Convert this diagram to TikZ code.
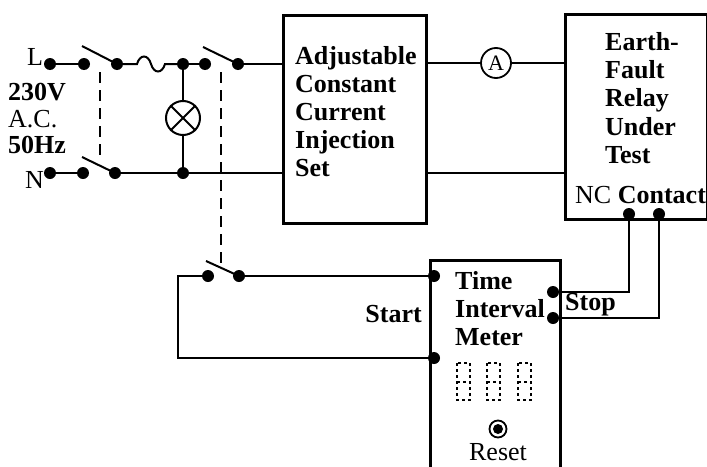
\documentclass[tikz,border=0pt]{standalone}
\usepackage{fontspec}
\setmainfont{Liberation Serif}
\begin{document}
\begin{tikzpicture}[x=1pt,y=-1pt,
  wire/.style={line width=2pt},
  boxed/.style={draw, line width=2.5pt, inner sep=0pt, anchor=north west},
  dot/.style={circle, fill=black, inner sep=0pt, minimum size=12pt},
  blade/.style={line width=2pt},
  link/.style={line width=2.2pt, dash pattern=on 11pt off 7pt},
  lbl/.style={font=\bfseries\fontsize{26}{28}\selectfont, inner sep=0pt, anchor=base west},
  lblr/.style={font=\fontsize{26}{28}\selectfont, inner sep=0pt, anchor=base west},
  seg/.style={line width=1.6pt, dash pattern=on 3pt off 3pt}]
\useasboundingbox (0,0) rectangle (707,466);
\fill[white] (0,0) rectangle (707,466);

% boxes
\node[boxed, minimum width=143pt, minimum height=208pt] (inj) at (282,14) {};
\node[boxed, minimum width=142pt, minimum height=205pt] (relay) at (564,13) {};
\node[boxed, minimum width=130pt, minimum height=240pt] (tim) at (429,259) {};

% dots
\node[dot] (Ld) at (50,64) {};
\node[dot] (s1a) at (84,64) {};
\node[dot] (s1b) at (117,64) {};
\node[dot] (j1) at (183,64) {};
\node[dot] (s2a) at (205,64) {};
\node[dot] (s2b) at (238,64) {};
\node[dot] (Nd) at (50,173) {};
\node[dot] (s3a) at (83,173) {};
\node[dot] (s3b) at (115,173) {};
\node[dot] (j2) at (183,173) {};
\node[dot] (s4a) at (208,276) {};
\node[dot] (s4b) at (239,276) {};
\node[dot] (t1) at (434,276) {};
\node[dot] (t2) at (434,358) {};
\node[dot] (t3) at (553,292) {};
\node[dot] (t4) at (553,318) {};
\node[dot] (c1) at (629,214) {};
\node[dot] (c2) at (659,214) {};

% lamp and ammeter
\node[circle, draw, line width=2pt, minimum size=34pt, inner sep=0pt] (lamp) at (183,118) {};
\draw[wire] (lamp.45) -- (lamp.225) (lamp.135) -- (lamp.315);
\node[circle, draw, line width=1.8pt, minimum size=30pt, inner sep=0pt,
      font=\fontsize{22}{22}\selectfont] (amm) at (496,63) {A};

% blade tips and dashed links
\coordinate (b1) at (82,46);
\coordinate (b2) at (203,47);
\coordinate (b3) at (82,157);
\coordinate (b4) at (206,261);
\draw[blade] (s1b.center) -- (b1);
\draw[blade] (s2b.center) -- (b2);
\draw[blade] (s3b.center) -- (b3);
\draw[blade] (s4b.center) -- (b4);
\coordinate (k1a) at (100,72);
\coordinate (k1b) at (100,158);
\coordinate (k2a) at (221,72);
\coordinate (k2b) at (221,266);
\draw[link] (k1a) -- (k1b);
\draw[link] (k2a) -- (k2b);

% fuse
\coordinate (fa) at (137,64);
\coordinate (fm) at (151,64);
\coordinate (fb) at (165,64);
\draw[wire] (s1b) -- (fa) .. controls (140,54) and (148,54) .. (fm)
  .. controls (154,74) and (162,74) .. (fb) -- (j1);

% wires
\draw[wire] (Ld) -- (s1a);
\draw[wire] (j1) -- (s2a);
\draw[wire] (s2b) -- (s2b -| inj.west);
\draw[wire] (Nd) -- (s3a);
\draw[wire] (s3b) -- (j2);
\draw[wire] (j2) -- (j2 -| inj.west);
\draw[wire] (j1) -- (lamp) -- (j2);
\draw[wire] (amm.west -| inj.east) -- (amm) -- (amm -| relay.west);
\draw[wire] (inj.east |- j2) -- (relay.west |- j2);
\draw[wire] (c1) -- (c1 |- t3) -- (t3);
\draw[wire] (c2) -- (c2 |- t4) -- (t4);
\draw[wire] (s4b) -- (t1);
\coordinate (lc) at (178,358);
\draw[wire] (s4a) -| (lc) -- (t2);

% left labels
\node[lblr] (tL) at (27,65) {L};
\node[lbl] (tV) at (8,100) {230V};
\node[lblr] (tAC) at (8,127) {A.C.};
\node[lbl] (tHz) at (8,153) {50Hz};
\node[lblr] (tN) at (25,188) {N};

% injection set text
\node[lbl] (i0) at (295,64) {Adjustable};
\node[lbl] (i1) at (295,92) {Constant};
\node[lbl] (i2) at (295,120) {Current};
\node[lbl] (i3) at (295,148) {Injection};
\node[lbl] (i4) at (295,176) {Set};

% relay text
\node[lbl] (r0) at (605,50) {Earth-};
\node[lbl] (r1) at (605,78) {Fault};
\node[lbl] (r2) at (605,106) {Relay};
\node[lbl] (r3) at (605,135) {Under};
\node[lbl] (r4) at (605,163) {Test};
\node[lbl] (r5) at (575,203) {{\mdseries NC} Contact};

% timer text
\node[lbl] (m0) at (455,289) {Time};
\node[lbl] (m1) at (455,317) {Interval};
\node[lbl] (m2) at (455,345) {Meter};
\node[lbl, anchor=base east] (st) at (422,322) {Start};
\node[lbl] (sp) at (565,310) {Stop};

% digits
\foreach \dx in {457,487,518} {
  \draw[seg] (\dx,363) rectangle ++(13,37);
  \draw[seg] (\dx,382) -- ++(13,0);
}

% reset
\node[circle, draw, line width=1.8pt, minimum size=17pt, inner sep=0pt] (rst) at (498,429) {};
\node[circle, fill=black, minimum size=10pt, inner sep=0pt] (rstd) at (rst) {};
\node[lblr, anchor=base] (rt) at (498,460) {Reset};
\end{tikzpicture}
\end{document}
